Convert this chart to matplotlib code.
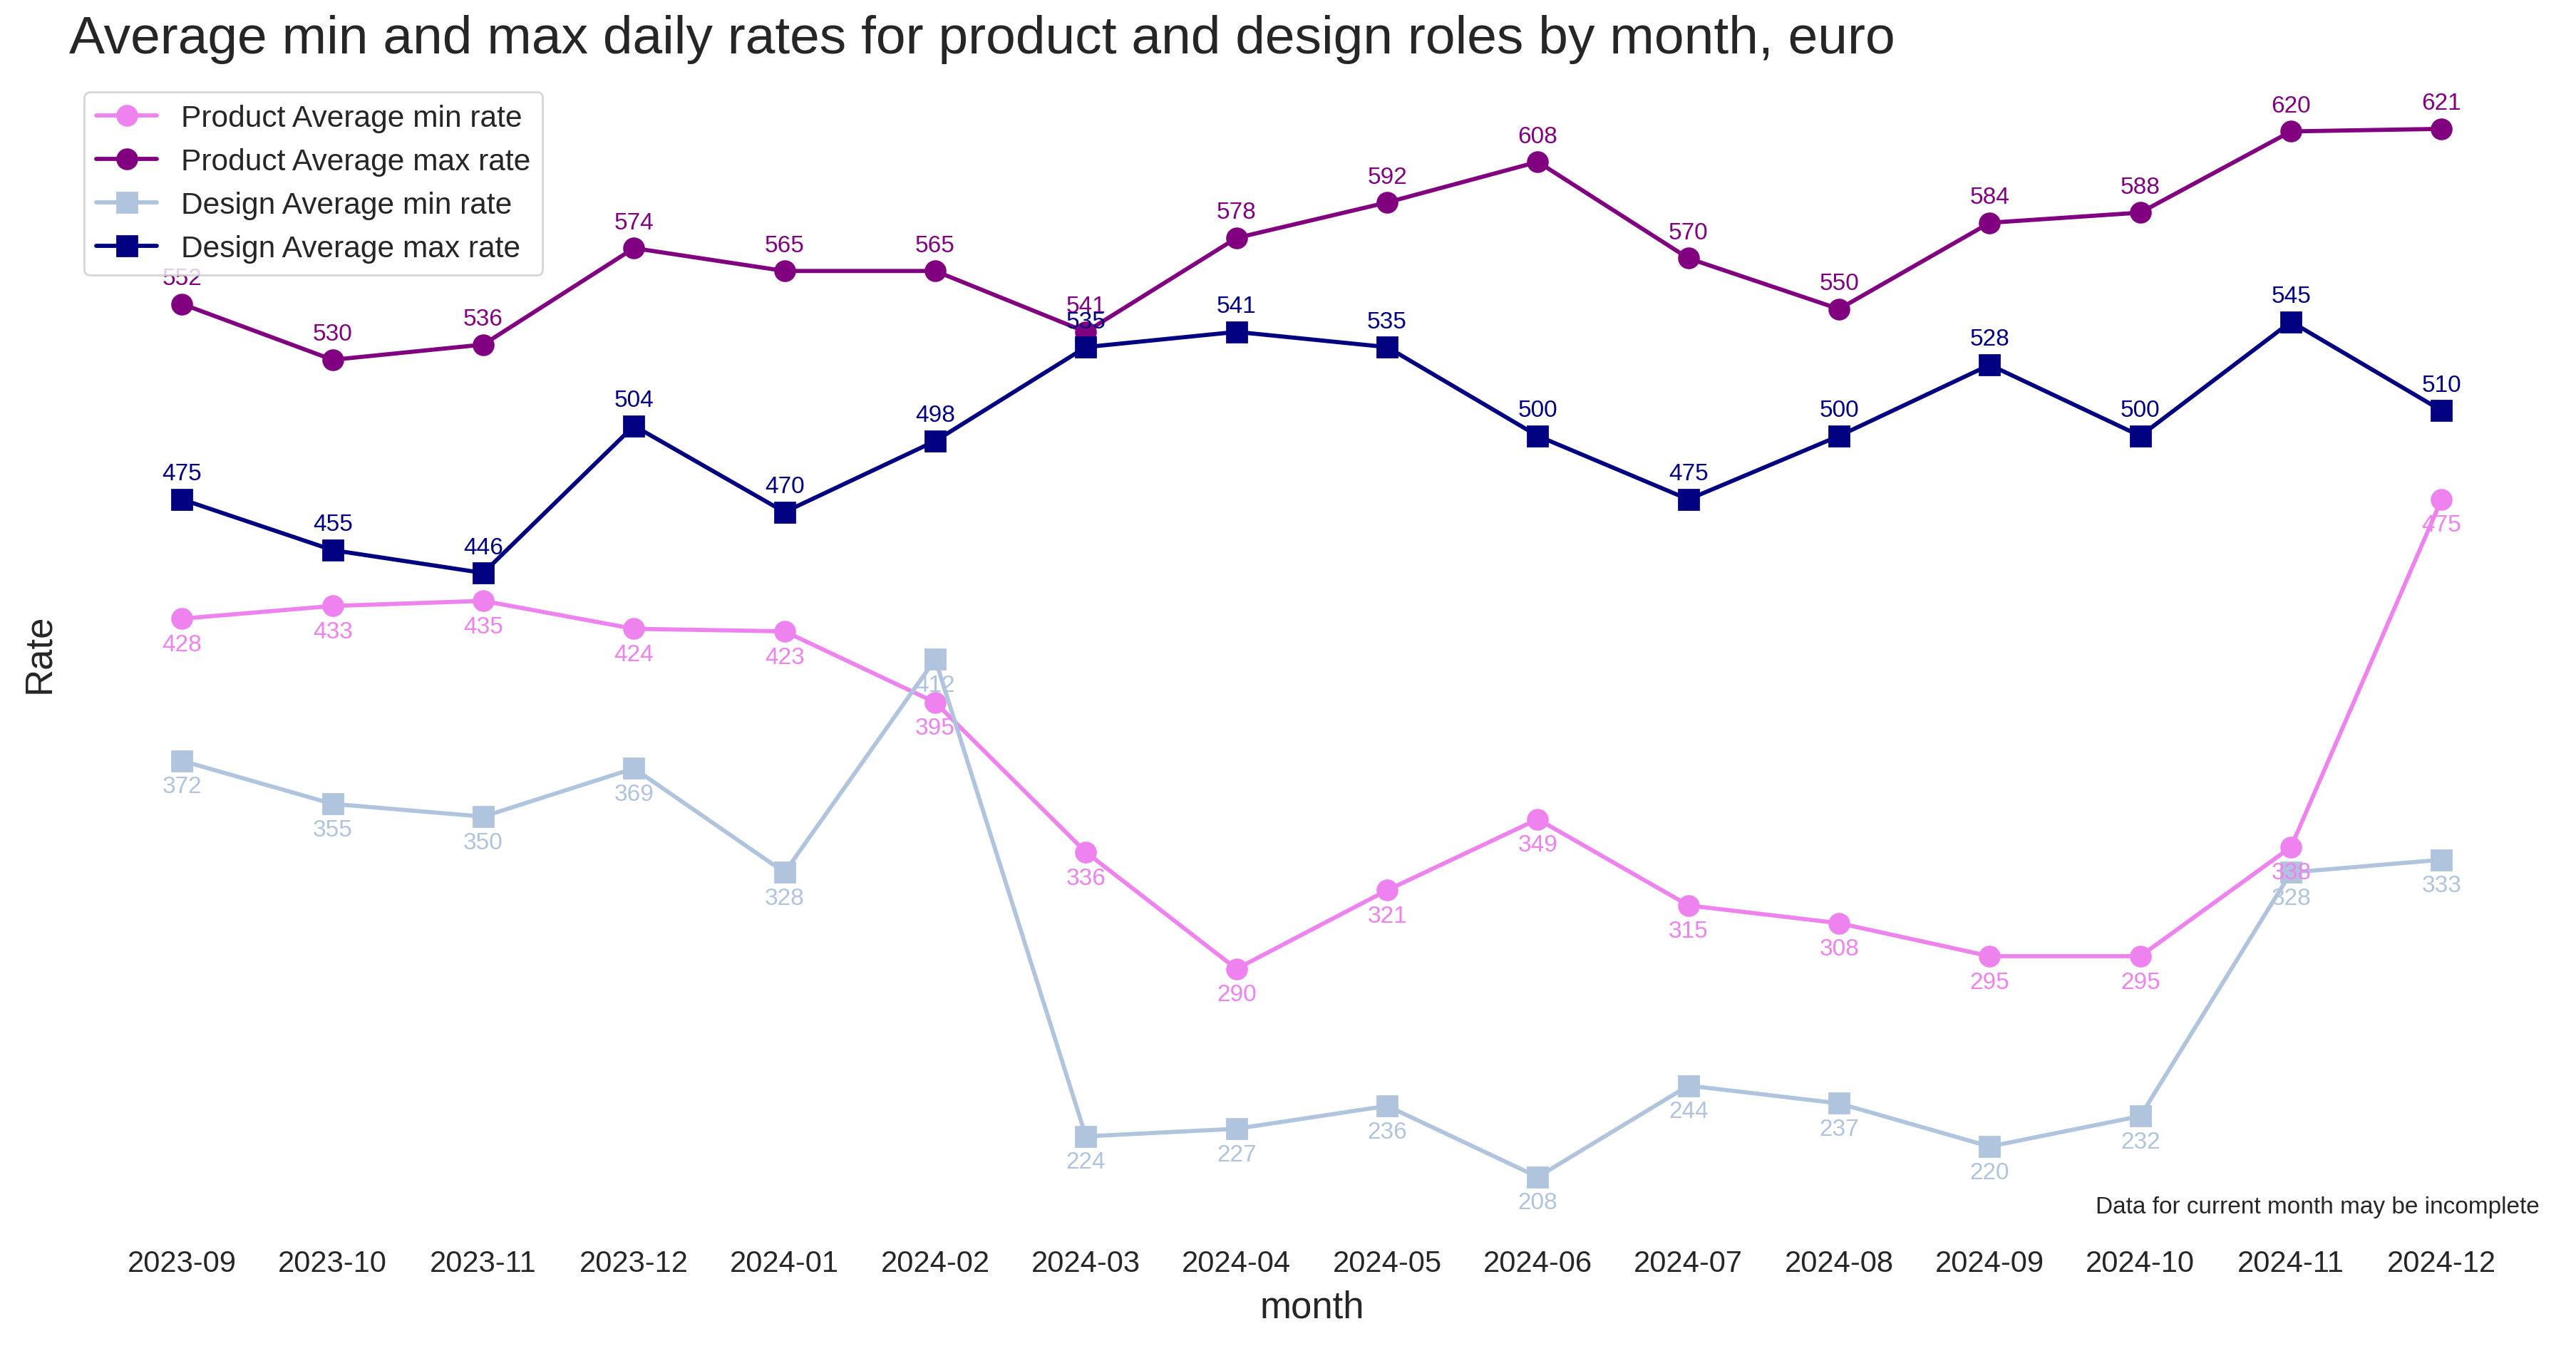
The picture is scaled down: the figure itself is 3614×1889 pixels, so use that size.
import matplotlib
matplotlib.use("Agg")
import matplotlib.pyplot as plt
import seaborn as sns

months = ["2023-09", "2023-10", "2023-11", "2023-12", "2024-01", "2024-02", "2024-03", "2024-04",
          "2024-05", "2024-06", "2024-07", "2024-08", "2024-09", "2024-10", "2024-11", "2024-12"]
product_min = [428, 433, 435, 424, 423, 395, 336, 290, 321, 349, 315, 308, 295, 295, 338, 475]
product_max = [552, 530, 536, 574, 565, 565, 541, 578, 592, 608, 570, 550, 584, 588, 620, 621]
design_min = [372, 355, 350, 369, 328, 412, 224, 227, 236, 208, 244, 237, 220, 232, 328, 333]
design_max = [475, 455, 446, 504, 470, 498, 535, 541, 535, 500, 475, 500, 528, 500, 545, 510]

sns.set_style("white")
plt.rcParams["font.family"] = ["Liberation Sans", "DejaVu Sans"]

fig = plt.figure(figsize=(18.07, 9.45), dpi=200)
ax = fig.add_axes([0.0268, 0.0866, 0.9649, 0.8561])

# (label, values, colour, marker, label above (+1) or below (-1))
series = [
    ("Product Average min rate", product_min, "violet", "o", -1),
    ("Product Average max rate", product_max, "purple", "o", 1),
    ("Design Average min rate", design_min, "lightsteelblue", "s", -1),
    ("Design Average max rate", design_max, "navy", "s", 1),
]
x = list(range(len(months)))
for label, vals, color, marker, side in series:
    ax.plot(x, vals, color=color, marker=marker, lw=2.1, markersize=10, label=label)
    for xi, v in zip(x, vals):
        ax.annotate(str(v), (xi, v), xytext=(0, 13 * side), textcoords="offset points",
                    ha="center", va="center", color=color, fontsize=12)

ax.set_xticks(x)
ax.set_xticklabels(months)
ax.set_yticks([])
ax.tick_params(axis="x", labelsize=15, pad=10, length=0)
for s in ax.spines.values():
    s.set_visible(False)

ax.set_xlabel("month", fontsize=19, labelpad=6)
ax.set_ylabel("Rate", fontsize=19, labelpad=6)
ax.set_title("Average min and max daily rates for product and design roles by month, euro",
             loc="left", fontsize=27, pad=12, color="#262626")
ax.legend(loc="upper left", fontsize=15.3, frameon=True)
ax.text(0.994, 0.010, "Data for current month may be incomplete", transform=ax.transAxes,
        ha="right", va="bottom", fontsize=12)

fig.savefig("out.png", dpi=200)
plt.close(fig)
